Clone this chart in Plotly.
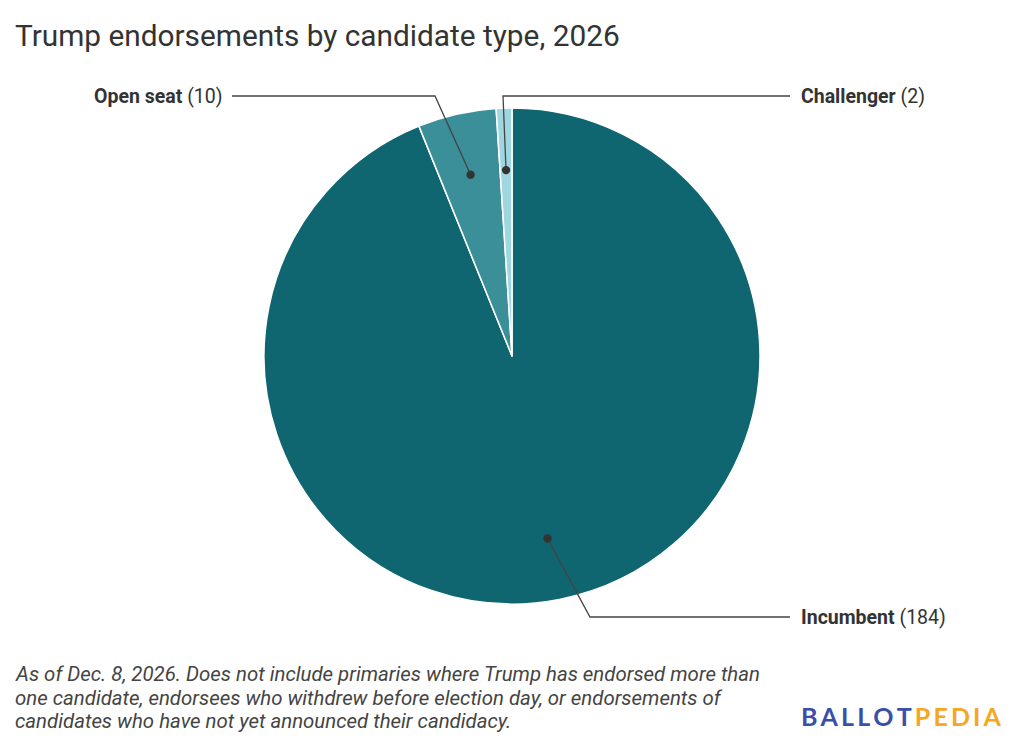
import math
import plotly.graph_objects as go

# ---- data ----
categories = ["Incumbent", "Open seat", "Challenger"]
values = [184, 10, 2]
colors = ["#0f6670", "#3a8f99", "#9fd6e0"]

title_text = "Trump endorsements by candidate type, 2026"
footer_lines = [
    "As of Dec. 8, 2026. Does not include primaries where Trump has endorsed more than",
    "one candidate, endorsees who withdrew before election day, or endorsements of",
    "candidates who have not yet announced their candidacy.",
]

W, H = 1024, 748
CX, CY, R = 512, 356, 248  # pie centre / radius in pixels


def px(x):
    return x / W


def py(y):
    return 1 - y / H


fig = go.Figure()
fig.add_trace(go.Pie(
    labels=categories,
    values=values,
    sort=False,
    direction="clockwise",
    rotation=0,
    marker=dict(colors=colors, line=dict(color="white", width=1.5)),
    textinfo="none",
    hoverinfo="label+value",
    showlegend=False,
    domain=dict(x=[px(CX - R), px(CX + R)], y=[py(CY + R), py(CY - R)]),
))

# leader line elbows and label anchors (layout positions)
elbows = {
    "Incumbent": ((590, 617), (790, 617), (799, "left")),
    "Open seat": ((435, 96), (232, 96), (225, "right")),
    "Challenger": ((503, 96), (790, 96), (799, "left")),
}

shapes = []
annotations = []
total = sum(values)
cum = 0
for cat, v in zip(categories, values):
    mid = (cum + v / 2) / total * 2 * math.pi
    cum += v
    dx = math.sin(mid) * R * 0.75
    dy = -math.cos(mid) * R * 0.75
    dotx, doty = CX + dx, CY + dy
    (ex, ey), (hx, hy), (lx, anchor) = elbows[cat]
    path = f"M {px(dotx)},{py(doty)} L {px(ex)},{py(ey)} L {px(hx)},{py(hy)}"
    shapes.append(dict(type="path", xref="paper", yref="paper", path=path,
                       line=dict(color="#444444", width=1.3)))
    rr = 4.2
    shapes.append(dict(type="circle", xref="paper", yref="paper",
                       x0=px(dotx - rr), x1=px(dotx + rr),
                       y0=py(doty + rr), y1=py(doty - rr),
                       fillcolor="#333333", line=dict(width=0)))
    annotations.append(dict(
        x=px(lx), y=py(hy), xref="paper", yref="paper",
        xanchor=anchor, yanchor="middle", showarrow=False,
        text=f"<b>{cat}</b> ({v})",
        font=dict(family="Roboto", size=19.5, color="#333333"),
    ))

annotations.append(dict(
    x=px(13), y=py(36), xref="paper", yref="paper", xanchor="left", yanchor="middle",
    showarrow=False, text=title_text,
    font=dict(family="Roboto", size=29.8, color="#333333"),
))

for i, line in enumerate(footer_lines):
    annotations.append(dict(
        x=px(13), y=py(674 + i * 23.5), xref="paper", yref="paper",
        xanchor="left", yanchor="middle", showarrow=False, align="left",
        text=f"<i>{line}</i>",
        font=dict(family="Roboto", size=20.4, color="#444444"),
    ))

ts = "\u2009"
annotations.append(dict(
    x=px(1004), y=py(716), xref="paper", yref="paper", xanchor="right", yanchor="middle",
    showarrow=False,
    text=(f"<b><span style='color:#3a4fa8'>{ts.join('BALLOT')}</span>{ts}"
          f"<span style='color:#f5a623'>{ts.join('PEDIA')}</span></b>"),
    font=dict(family="Lato", size=25),
))

fig.update_layout(
    width=W, height=H,
    margin=dict(l=0, r=0, t=0, b=0),
    paper_bgcolor="white", plot_bgcolor="white",
    shapes=shapes, annotations=annotations,
)

fig.write_html("out.html", config={"displayModeBar": False},
               post_script="document.body.style.margin='0';")
